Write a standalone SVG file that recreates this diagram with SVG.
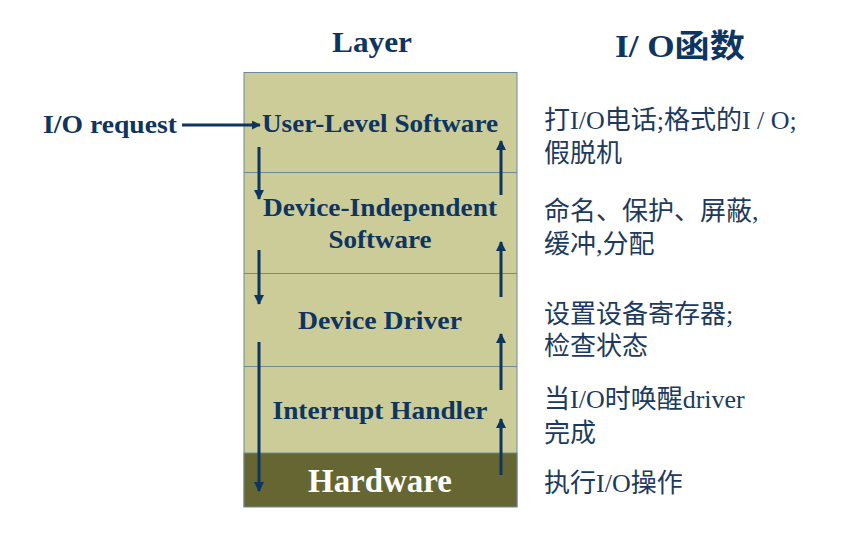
<svg xmlns="http://www.w3.org/2000/svg" width="853" height="555" viewBox="0 0 853 555">
<defs>
<style>
.bold{font-family:"Liberation Serif","Noto Sans CJK SC",serif;font-weight:bold;fill:#0e3560;}
.lbl{font-size:26px;text-anchor:middle;}
.desc{font-family:"Liberation Serif","Noto Sans CJK SC",serif;font-size:26px;fill:#1d3a5c;}
.sep{stroke:#6f8a94;stroke-width:1;}
.conn{stroke:#0e3560;stroke-width:3;fill:none;}
</style>
<marker id="ah" viewBox="0 0 10 10" refX="9" refY="5" markerWidth="10" markerHeight="10" markerUnits="userSpaceOnUse" orient="auto">
<path d="M0,0 L10,5 L0,10 z" fill="#0e3560"/>
</marker>
<marker id="ah2" viewBox="0 0 10 10" refX="9" refY="5" markerWidth="9" markerHeight="9" markerUnits="userSpaceOnUse" orient="auto">
<path d="M0,0 L10,5 L0,10 z" fill="#0e3560"/>
</marker>
</defs>
<rect width="853" height="555" fill="#ffffff"/>
<text class="bold" x="372" y="52" font-size="29" text-anchor="middle" textLength="80" lengthAdjust="spacingAndGlyphs">Layer</text>
<text class="bold" x="680" y="57" font-size="32" text-anchor="middle" textLength="130" lengthAdjust="spacingAndGlyphs">I/ O函数</text>
<g id="stack">
<rect x="244" y="72.5" width="273" height="434" fill="#cccc99" stroke="#6f8a94" stroke-width="1"/>
<rect x="244" y="453" width="273" height="54" fill="#666633" stroke="#6f8a94" stroke-width="1"/>
<line class="sep" x1="244" y1="172.5" x2="517" y2="172.5"/>
<line class="sep" x1="244" y1="273.5" x2="517" y2="273.5"/>
<line class="sep" x1="244" y1="366.5" x2="517" y2="366.5"/>
</g>
<g id="user-level">
<text class="bold lbl" x="380" y="132" textLength="236" lengthAdjust="spacingAndGlyphs">User-Level Software</text>
</g>
<g id="device-independent">
<text class="bold lbl" x="380" y="216" textLength="234" lengthAdjust="spacingAndGlyphs">Device-Independent</text>
<text class="bold lbl" x="380" y="248" textLength="103" lengthAdjust="spacingAndGlyphs">Software</text>
</g>
<g id="device-driver">
<text class="bold lbl" x="380" y="329" textLength="164" lengthAdjust="spacingAndGlyphs">Device Driver</text>
</g>
<g id="interrupt-handler">
<text class="bold lbl" x="380" y="419" textLength="215" lengthAdjust="spacingAndGlyphs">Interrupt Handler</text>
</g>
<g id="hardware">
<text x="380" y="492" font-family="'Liberation Serif',serif" font-weight="bold" font-size="34" fill="#ffffff" text-anchor="middle" textLength="144" lengthAdjust="spacingAndGlyphs">Hardware</text>
</g>
<g id="io-request">
<text class="bold" x="43" y="133" font-size="26" textLength="134" lengthAdjust="spacingAndGlyphs">I/O request</text>
</g>
<g id="connectors">
<line class="conn" x1="182" y1="125" x2="260" y2="125" stroke-width="2" marker-end="url(#ah2)"/>
<line class="conn" x1="259" y1="147" x2="259" y2="199" marker-end="url(#ah)"/>
<line class="conn" x1="259" y1="250" x2="259" y2="304" marker-end="url(#ah)"/>
<line class="conn" x1="259" y1="342" x2="259" y2="491" marker-end="url(#ah)"/>
<line class="conn" x1="501" y1="195" x2="501" y2="141" marker-end="url(#ah)"/>
<line class="conn" x1="501" y1="297" x2="501" y2="242" marker-end="url(#ah)"/>
<line class="conn" x1="501" y1="390" x2="501" y2="334" marker-end="url(#ah)"/>
<line class="conn" x1="501" y1="475" x2="501" y2="419" marker-end="url(#ah)"/>
</g>
<g id="descriptions">
<text class="desc" x="544" y="129">打I/O电话;格式的I / O;</text>
<text class="desc" x="544" y="162">假脱机</text>
<text class="desc" x="544" y="220">命名、保护、屏蔽,</text>
<text class="desc" x="544" y="253">缓冲,分配</text>
<text class="desc" x="544" y="323">设置设备寄存器;</text>
<text class="desc" x="544" y="355">检查状态</text>
<text class="desc" x="544" y="408">当I/O时唤醒driver</text>
<text class="desc" x="544" y="442">完成</text>
<text class="desc" x="544" y="492">执行I/O操作</text>
</g>
</svg>
